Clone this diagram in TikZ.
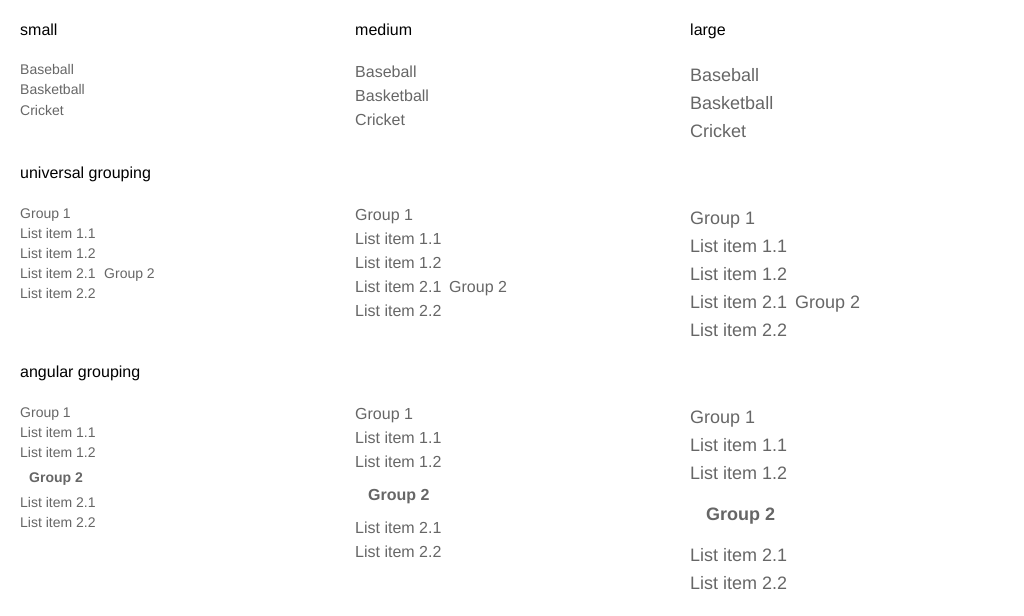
\documentclass[tikz,border=0pt]{standalone}
\usepackage{fontspec}
\setmainfont{Liberation Sans}
\definecolor{itemgray}{HTML}{666666}
\tikzset{
  hdr/.style={anchor=base west, inner sep=0pt, text=black, font=\fontsize{16}{16}\selectfont},
  itS/.style={anchor=base west, inner sep=0pt, text=itemgray, font=\fontsize{14}{14}\selectfont},
  itM/.style={anchor=base west, inner sep=0pt, text=itemgray, font=\fontsize{16}{16}\selectfont},
  itL/.style={anchor=base west, inner sep=0pt, text=itemgray, font=\fontsize{18}{18}\selectfont},
  bS/.style={itS, font=\fontsize{14}{14}\selectfont\bfseries},
  bM/.style={itM, font=\fontsize{16}{16}\selectfont\bfseries},
  bL/.style={itL, font=\fontsize{18}{18}\selectfont\bfseries},
}
\begin{document}
\begin{tikzpicture}[x=1pt,y=-1pt]
\useasboundingbox (0,0) rectangle (1024,615);
\begin{scope}[yshift=-1pt]
% headers
\node[hdr] (hs) at (20,34.7) {small};
\node[hdr] (hm) at (355,34.7) {medium};
\node[hdr] (hl) at (690,34.7) {large};
\node[hdr] (hu) at (20,177.7) {universal grouping};
\node[hdr] (ha) at (20,376.7) {angular grouping};
% small column
\node[itS] (s1) at (20,74) {Baseball};
\node[itS] (s2) at (20,94) {Basketball};
\node[itS] (s3) at (20,114) {Cricket};
\node[itS] (su1) at (20,217) {Group 1};
\node[itS] (su2) at (20,237) {List item 1.1};
\node[itS] (su3) at (20,257) {List item 1.2};
\node[itS] (su4) at (20,277) {List item 2.1};
\node[itS] (su5) at (104,277) {Group 2};
\node[itS] (su6) at (20,297) {List item 2.2};
\node[itS] (sa1) at (20,416) {Group 1};
\node[itS] (sa2) at (20,436) {List item 1.1};
\node[itS] (sa3) at (20,456) {List item 1.2};
\node[bS]  (sa4) at (29,481) {Group 2};
\node[itS] (sa5) at (20,506) {List item 2.1};
\node[itS] (sa6) at (20,526) {List item 2.2};
% medium column
\node[itM] (m1) at (355,76.7) {Baseball};
\node[itM] (m2) at (355,100.7) {Basketball};
\node[itM] (m3) at (355,124.7) {Cricket};
\node[itM] (mu1) at (355,219.7) {Group 1};
\node[itM] (mu2) at (355,243.7) {List item 1.1};
\node[itM] (mu3) at (355,267.7) {List item 1.2};
\node[itM] (mu4) at (355,291.7) {List item 2.1};
\node[itM] (mu5) at (449,291.7) {Group 2};
\node[itM] (mu6) at (355,315.7) {List item 2.2};
\node[itM] (ma1) at (355,418.7) {Group 1};
\node[itM] (ma2) at (355,442.7) {List item 1.1};
\node[itM] (ma3) at (355,466.7) {List item 1.2};
\node[bM]  (ma4) at (368,499.7) {Group 2};
\node[itM] (ma5) at (355,532.7) {List item 2.1};
\node[itM] (ma6) at (355,556.7) {List item 2.2};
% large column
\node[itL] (l1) at (690,80.4) {Baseball};
\node[itL] (l2) at (690,108.4) {Basketball};
\node[itL] (l3) at (690,136.4) {Cricket};
\node[itL] (lu1) at (690,223.4) {Group 1};
\node[itL] (lu2) at (690,251.4) {List item 1.1};
\node[itL] (lu3) at (690,279.4) {List item 1.2};
\node[itL] (lu4) at (690,307.4) {List item 2.1};
\node[itL] (lu5) at (795,307.4) {Group 2};
\node[itL] (lu6) at (690,335.4) {List item 2.2};
\node[itL] (la1) at (690,422.4) {Group 1};
\node[itL] (la2) at (690,450.4) {List item 1.1};
\node[itL] (la3) at (690,478.4) {List item 1.2};
\node[bL]  (la4) at (706,519.4) {Group 2};
\node[itL] (la5) at (690,560.4) {List item 2.1};
\node[itL] (la6) at (690,588.4) {List item 2.2};
\end{scope}
\end{tikzpicture}
\end{document}
